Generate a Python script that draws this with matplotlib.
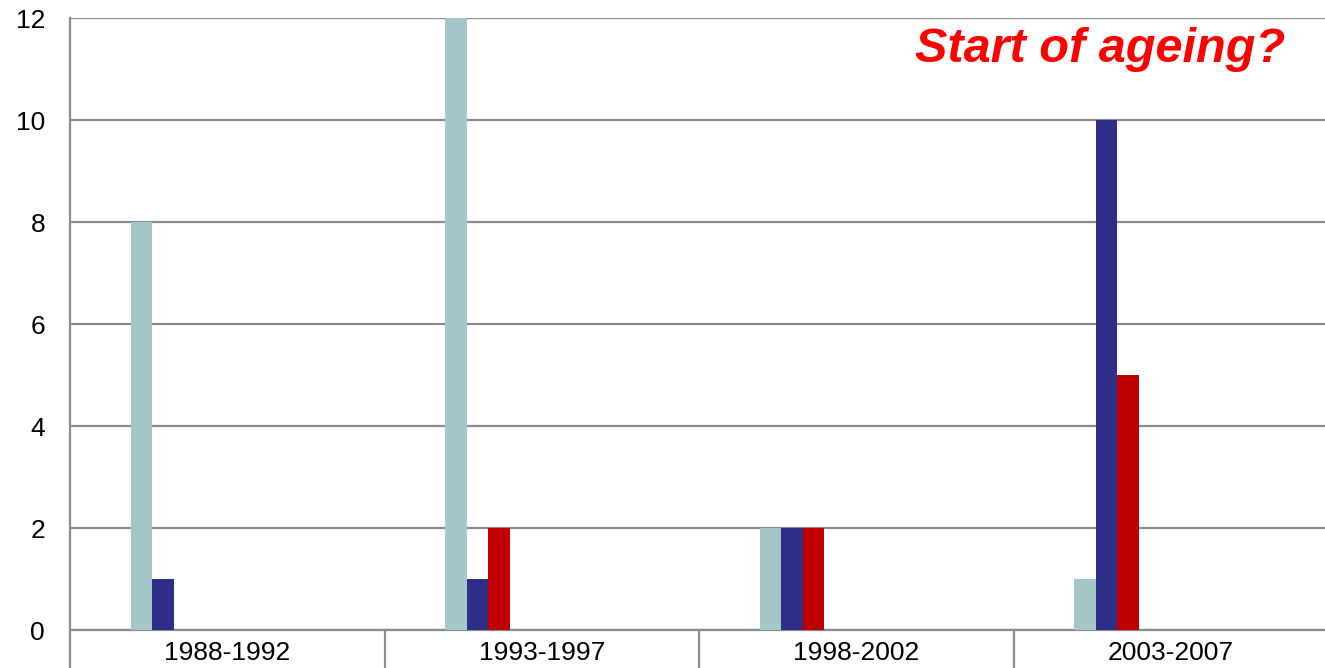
import numpy as np
import matplotlib
matplotlib.use("Agg")
import matplotlib.pyplot as plt

periodos = ["1988-1992", "1993-1997", "1998-2002", "2003-2007"]
serie_clara = [8, 12, 2, 1]
serie_azul = [1, 1, 2, 10]
serie_roja = [0, 2, 2, 5]

colores = ["#a5c6c8", "#2e2d88", "#c00000"]

plt.rcParams["font.family"] = ["Liberation Sans", "DejaVu Sans"]

fig = plt.figure(figsize=(13.25, 6.68), dpi=100)
ax = fig.add_axes([70 / 1325, 38 / 668, 1258 / 1325, 612 / 668])

x = np.arange(len(periodos))
ancho = 0.0684
inicio = -0.307
for k, (valores, color) in enumerate(zip([serie_clara, serie_azul, serie_roja], colores)):
    ax.bar(x + inicio + (k + 0.5) * ancho, valores, width=ancho, color=color,
           edgecolor="none", zorder=3)

ax.set_xlim(-0.5, len(periodos) - 0.5)
ax.set_ylim(0, 12)
ax.set_yticks(range(0, 13, 2))
ax.tick_params(axis="y", length=0, labelsize=19, pad=18)
ax.grid(axis="y", color="#8c8c8c", linewidth=1.6, zorder=0)

# etiquetas de periodo centradas, separadores entre categorias
ax.set_xticks(x)
ax.set_xticklabels(periodos)
ax.tick_params(axis="x", which="major", length=0, labelsize=19, pad=8)
ax.set_xticks(np.arange(-0.5, len(periodos)), minor=True)
ax.tick_params(axis="x", which="minor", length=28, width=1.6, color="#8c8c8c", direction="out")

for lado in ["top", "right"]:
    ax.spines[lado].set_visible(False)
ax.spines["left"].set_color("#8c8c8c")
ax.spines["left"].set_linewidth(1.6)
ax.spines["bottom"].set_color("#8c8c8c")
ax.spines["bottom"].set_linewidth(1.6)

fig.text(1285 / 1325, 1 - 50 / 668, "Start of ageing?", color="#ff0000",
         fontsize=35, fontweight="bold", fontstyle="italic", ha="right", va="center")

fig.savefig("out.png", dpi=100)
